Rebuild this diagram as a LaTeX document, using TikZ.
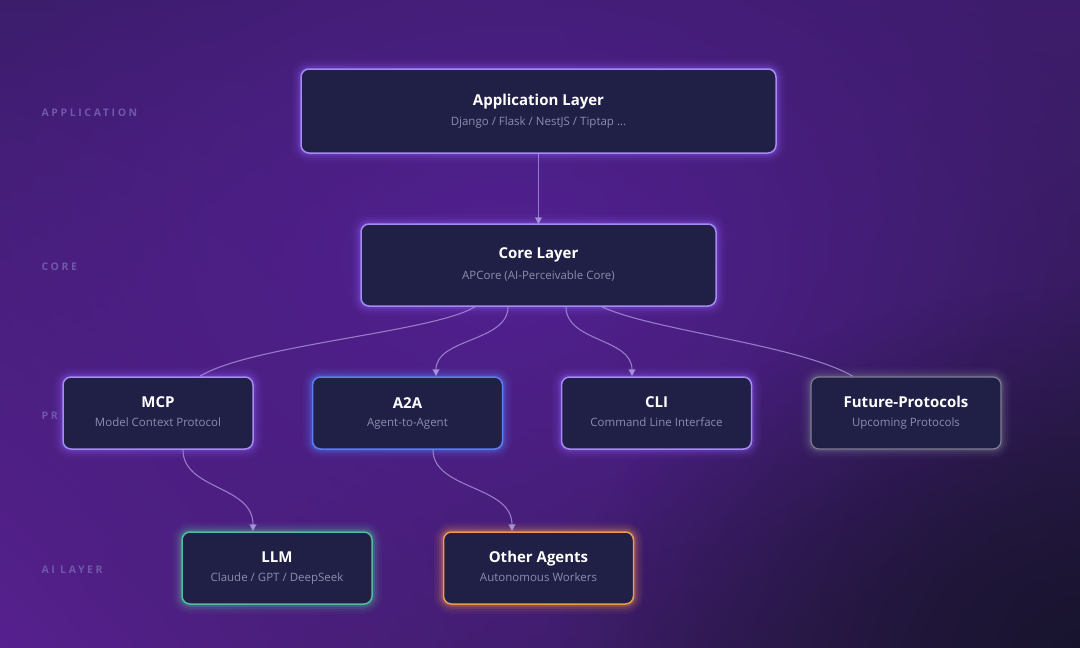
\documentclass[tikz,border=0pt]{standalone}
\usepackage{fontspec}
\setmainfont{Open Sans}
\newfontfamily\layerfont[LetterSpace=25]{Open Sans}
\usetikzlibrary{arrows.meta,backgrounds,fadings,shadings}
\tikzfading[name=softglow, inner color=transparent!0, outer color=transparent!100]
\definecolor{bgUL}{HTML}{3C1D6C}
\definecolor{bgUR}{HTML}{3E1C6C}
\definecolor{bgLL}{HTML}{56208E}
\definecolor{bgLR}{HTML}{2A1A4A}
\definecolor{bgGlow}{HTML}{5A21A0}
\definecolor{bgDark}{HTML}{16132A}
\definecolor{boxfill}{HTML}{201F45}
\definecolor{subtxt}{HTML}{8E8CAE}
\definecolor{layertxt}{HTML}{7058AA}
\definecolor{lav}{HTML}{A58CF2}
\definecolor{lavglow}{HTML}{8B5CF6}
\definecolor{bluebd}{HTML}{5C7EF5}
\definecolor{greybd}{HTML}{7E7E96}
\definecolor{tealbd}{HTML}{52BC9C}
\definecolor{orangebd}{HTML}{EC9A4C}
\definecolor{linkc}{HTML}{A893DA}
\newcommand\boxglow[2]{%
  \foreach \w/\o in {18/0.05,13/0.08,8/0.12,4/0.2}{%
    \draw[#2, line width=\w pt, opacity=\o, rounded corners=9pt] (#1.south west) rectangle (#1.north east);}}
\newcommand\ttl[1]{{\fontsize{15}{17}\selectfont\bfseries\vphantom{Ag}#1}}
\newcommand\sbt[1]{{\fontsize{11.5}{13}\selectfont\color{subtxt}\vphantom{Ag}#1}}
\begin{document}
\begin{tikzpicture}[x=1pt,y=-1pt,
  box/.style={rectangle, rounded corners=8pt, fill=boxfill, draw=#1, line width=1.5pt,
    align=center, text=white, inner sep=0pt},
  wide/.style={minimum width=190pt, minimum height=72pt},
  layerlbl/.style={anchor=west, text=layertxt, font=\layerfont\fontsize{10.5}{12}\selectfont\bfseries},
  link/.style={draw=linkc, draw opacity=0.8, line width=1.1pt},
  tip/.style={-{Triangle[length=7pt,width=7pt]}}]
\useasboundingbox (0,0) rectangle (1080,648);
% layer labels
\node[layerlbl] (lapp) at (38,113) {APPLICATION};
\node[layerlbl] (lcore) at (38,267) {CORE};
\node[layerlbl] (lprot) at (38,416) {PR};
\node[layerlbl] (lai) at (38,570) {AI LAYER};
% boxes
\node[box=lav, minimum width=475pt, minimum height=84pt] (app) at (538.5,111)
  {\ttl{Application Layer}\\[7pt]\sbt{Django / Flask / NestJS / Tiptap ...}};
\node[box=lav, minimum width=355pt, minimum height=82pt] (core) at (538.5,265)
  {\ttl{Core Layer}\\[7pt]\sbt{APCore (AI-Perceivable Core)}};
\node[box=lav, wide] (mcp) at (158,413) {\ttl{MCP}\\[6pt]\sbt{Model Context Protocol}};
\node[box=bluebd, wide] (a2a) at (407.5,413) {\ttl{A2A}\\[6pt]\sbt{Agent-to-Agent}};
\node[box=lav, wide] (cli) at (656.5,413) {\ttl{CLI}\\[6pt]\sbt{Command Line Interface}};
\node[box=greybd, wide, line width=1.2pt] (fut) at (906,413) {\ttl{Future-Protocols}\\[6pt]\sbt{Upcoming Protocols}};
\node[box=tealbd, wide] (llm) at (277,568) {\ttl{LLM}\\[6pt]\sbt{Claude / GPT / DeepSeek}};
\node[box=orangebd, wide] (oth) at (538.5,568) {\ttl{Other Agents}\\[6pt]\sbt{Autonomous Workers}};
% background and glows
\begin{scope}[on background layer]
  \shade[upper left=bgUL, upper right=bgUR, lower left=bgLL, lower right=bgLR] (0,0) rectangle (1080,648);
  \fill[bgGlow, opacity=0.7, path fading=softglow] (520,260) ellipse (620 and 420);
  \fill[bgDark, opacity=0.9, path fading=softglow] (1080,648) ellipse (520 and 360);
  \boxglow{app}{lavglow}
  \boxglow{core}{lavglow}
  \boxglow{mcp}{lavglow}
  \boxglow{a2a}{bluebd}
  \boxglow{cli}{lavglow}
  \begin{scope}[opacity=0.5]\boxglow{fut}{greybd}\end{scope}
  \boxglow{llm}{tealbd}
  \boxglow{oth}{orangebd}
  % connectors
  \draw[link, tip] (app.south) -- ([yshift=-1pt]core.north);
  \draw[link] ([xshift=-63.5pt]core.south) .. controls (435,332) and (250,345) .. ([xshift=42pt]mcp.north);
  \draw[link, tip] ([xshift=-30.5pt]core.south) .. controls (508,342) and (436,338) .. ([xshift=28.5pt]a2a.north);
  \draw[link, tip] ([xshift=27.5pt]core.south) .. controls (566,342) and (632,338) .. ([xshift=-24.5pt]cli.north);
  \draw[link] ([xshift=63.5pt]core.south) .. controls (650,330) and (800,345) .. ([xshift=-53pt]fut.north);
  \draw[link, tip] ([xshift=25pt]mcp.south) .. controls (183,490) and (253,485) .. ([xshift=-24pt]llm.north);
  \draw[link, tip] ([xshift=25.5pt]a2a.south) .. controls (433,490) and (512,485) .. ([xshift=-26.5pt]oth.north);
\end{scope}
\end{tikzpicture}
\end{document}
